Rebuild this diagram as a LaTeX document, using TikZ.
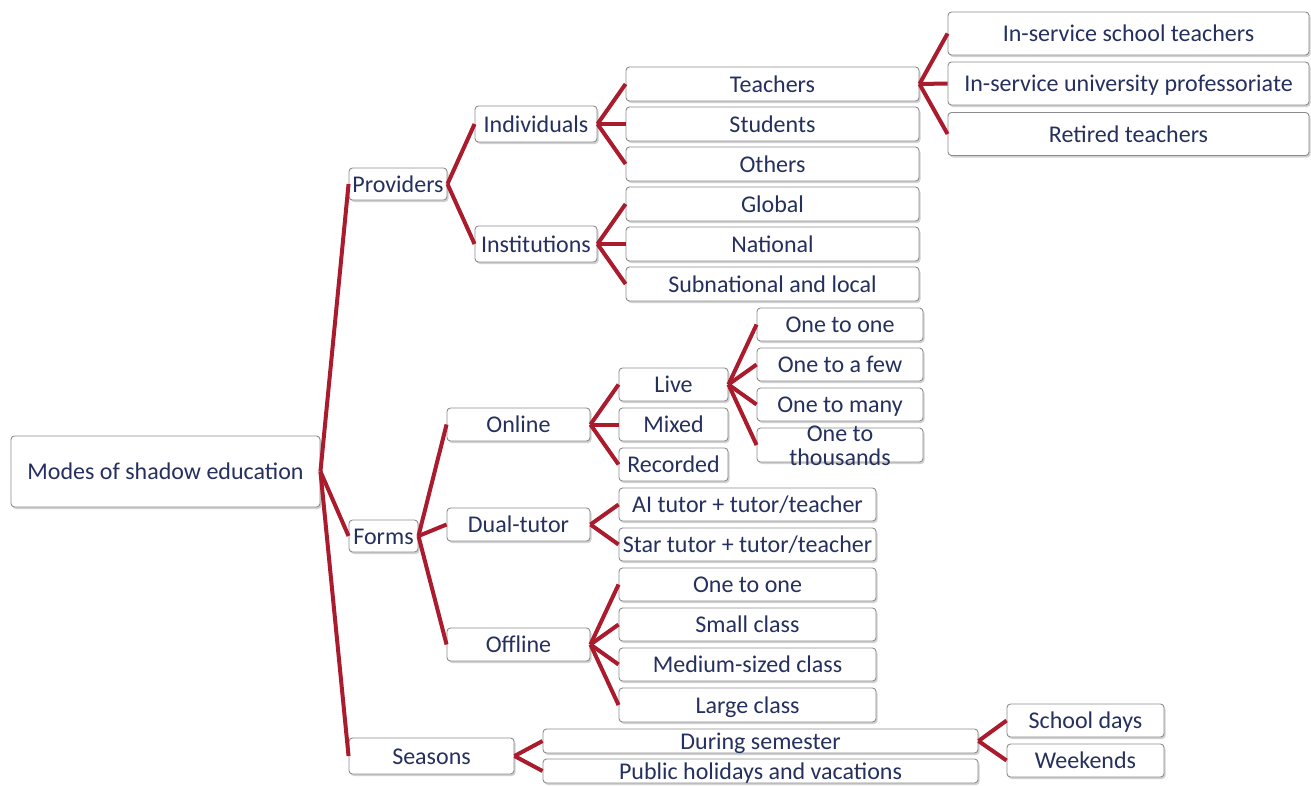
\documentclass[tikz,border=0pt]{standalone}
\usepackage{fontspec}
\setmainfont{Carlito}
\usetikzlibrary{shadows}
\definecolor{txtc}{RGB}{37,48,94}
\definecolor{linec}{RGB}{170,28,45}
\definecolor{bordc}{RGB}{140,140,140}
\tikzset{
  box/.style={draw=bordc, line width=0.9pt, fill=white, rounded corners=3.5pt,
    inner sep=0pt, text=txtc, font=\fontsize{24}{24}\selectfont,
    text height=19pt, text depth=3pt,
    drop shadow={shadow xshift=1.5pt, shadow yshift=-2pt, opacity=0.3, fill=black!60}},
  plain/.style={inner sep=0pt, text=txtc, font=\fontsize{24}{24}\selectfont, align=center},
  conn/.style={draw=linec, line width=4pt}
}
\begin{document}
\begin{tikzpicture}[x=1pt,y=-1pt]
\useasboundingbox (0,0) rectangle (1311,785);
% level 0
\node[box, minimum width=309, minimum height=71] (root) at (165.5,471.5) {Modes of shadow education};
% level 1
\node[box, minimum width=98, minimum height=32] (prov) at (398,184) {Providers};
\node[box, minimum width=69, minimum height=32] (forms) at (383.5,536) {Forms};
\node[box, minimum width=165, minimum height=36] (seas) at (431.5,756) {Seasons};
% providers
\node[box, minimum width=122, minimum height=36] (indiv) at (536,124) {Individuals};
\node[box, minimum width=122, minimum height=36] (inst) at (536,244) {Institutions};
\node[box, minimum width=293, minimum height=34] (teach) at (772.5,84) {Teachers};
\node[box, minimum width=293, minimum height=34] (stud) at (772.5,124) {Students};
\node[box, minimum width=293, minimum height=34] (oth) at (772.5,164) {Others};
\node[box, minimum width=293, minimum height=34] (glob) at (772.5,204) {Global};
\node[box, minimum width=293, minimum height=34] (nat) at (772.5,244) {National};
\node[box, minimum width=293, minimum height=34] (sub) at (772.5,284) {Subnational and local};
\node[box, minimum width=361, minimum height=43] (isch) at (1128.5,33.5) {In-service school teachers};
\node[box, minimum width=361, minimum height=43] (iuni) at (1128.5,83.5) {In-service university professoriate};
\node[box, minimum width=361, minimum height=43] (ret) at (1128.5,134) {Retired teachers};
% forms
\node[box, minimum width=143, minimum height=33] (onl) at (518.5,424.5) {Online};
\node[box, minimum width=143, minimum height=33] (dual) at (518.5,524.5) {Dual-tutor};
\node[box, minimum width=143, minimum height=33] (offl) at (518.5,644.5) {Off\kern0ptline};
\node[box, minimum width=109, minimum height=33] (live) at (673.5,384.5) {Live};
\node[box, minimum width=109, minimum height=33] (mix) at (673.5,424.5) {Mixed};
\node[box, minimum width=109, minimum height=33] (rec) at (673.5,464.5) {Recorded};
\node[box, minimum width=166, minimum height=33] (o1) at (840,324.5) {One to one};
\node[box, minimum width=166, minimum height=33] (o2) at (840,364.5) {One to a few};
\node[box, minimum width=166, minimum height=33] (o3) at (840,404.5) {One to many};
\node[box, minimum width=166, minimum height=34] (o4) at (840,445) {};
\node[plain] (o4t) at (840,446) {One to\\thousands};
\node[box, minimum width=257, minimum height=33] (ai) at (747.5,504.5) {AI tutor + tutor/teacher};
\node[box, minimum width=257, minimum height=33] (star) at (747.5,544.5) {Star tutor + tutor/teacher};
\node[box, minimum width=257, minimum height=33] (f1) at (747.5,584.5) {One to one};
\node[box, minimum width=257, minimum height=33] (f2) at (747.5,624.5) {Small class};
\node[box, minimum width=257, minimum height=33] (f3) at (747.5,664.5) {Medium-sized class};
\node[box, minimum width=257, minimum height=34] (f4) at (747.5,705) {Large class};
% seasons
\node[box, minimum width=435, minimum height=24] (dur) at (760.5,741) {During semester};
\node[box, minimum width=435, minimum height=24] (pub) at (760.5,771) {Public holidays and vacations};
\node[box, minimum width=157, minimum height=33] (sd) at (1085.5,720.5) {School days};
\node[box, minimum width=157, minimum height=33] (we) at (1085.5,760.5) {Weekends};
% connectors
\foreach \c in {prov,forms,seas} \draw[conn] (root.east) -- (\c.west);
\foreach \c in {indiv,inst} \draw[conn] (prov.east) -- (\c.west);
\foreach \c in {teach,stud,oth} \draw[conn] (indiv.east) -- (\c.west);
\foreach \c in {glob,nat,sub} \draw[conn] (inst.east) -- (\c.west);
\foreach \c in {isch,iuni,ret} \draw[conn] (teach.east) -- (\c.west);
\foreach \c in {onl,dual,offl} \draw[conn] (forms.east) -- (\c.west);
\foreach \c in {live,mix,rec} \draw[conn] (onl.east) -- (\c.west);
\foreach \c in {o1,o2,o3,o4} \draw[conn] (live.east) -- (\c.west);
\foreach \c in {ai,star} \draw[conn] (dual.east) -- (\c.west);
\foreach \c in {f1,f2,f3,f4} \draw[conn] (offl.east) -- (\c.west);
\foreach \c in {dur,pub} \draw[conn] (seas.east) -- (\c.west);
\foreach \c in {sd,we} \draw[conn] (dur.east) -- (\c.west);
\end{tikzpicture}
\end{document}
